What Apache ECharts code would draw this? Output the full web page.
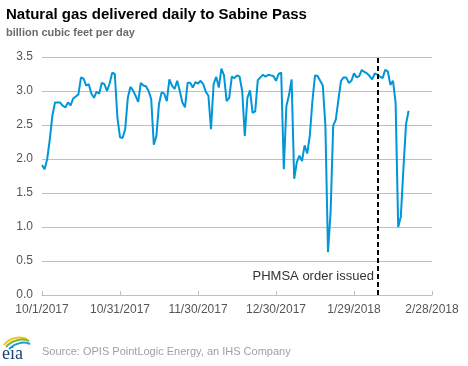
<!DOCTYPE html>
<html>
<head>
<meta charset="utf-8">
<script src="https://cdn.jsdelivr.net/npm/echarts@6/dist/echarts.min.js"></script>
<style>html,body{margin:0;padding:0;background:#fff;}#c{width:468px;height:366px;}</style>
</head>
<body>
<div id="c"></div>
<script>
// Daily values starting 10/1/2017 (index = days since 10/1/2017)
const values = [
  1.91, 1.85, 2.00, 2.29, 2.64, 2.83, 2.83, 2.83, 2.78, 2.76,
  2.83, 2.79, 2.89, 2.92, 2.95, 3.20, 3.18, 3.08, 3.10, 2.96,
  2.90, 2.99, 2.96, 3.12, 3.10, 3.00, 3.11, 3.27, 3.25, 2.61,
  2.32, 2.31, 2.44, 2.90, 3.06, 3.01, 2.93, 2.84, 3.12, 3.08,
  3.07, 3.00, 2.88, 2.21, 2.34, 2.81, 2.98, 2.96, 2.85, 3.17,
  3.08, 3.03, 3.15, 3.00, 2.83, 2.76, 3.12, 3.12, 3.05, 3.13,
  3.11, 3.15, 3.10, 2.99, 2.93, 2.44, 3.10, 3.21, 3.05, 3.33,
  3.23, 2.85, 2.90, 3.21, 3.19, 3.23, 3.21, 3.00, 2.34, 2.90,
  3.01, 2.68, 2.70, 3.16, 3.20, 3.24, 3.21, 3.24, 3.23, 3.22,
  3.15, 3.25, 3.27, 1.85, 2.78, 2.94, 3.17, 1.71, 1.95, 2.05,
  1.97, 2.20, 2.08, 2.34, 2.85, 3.23, 3.22, 3.15, 3.08, 2.49,
  0.63, 1.22, 2.49, 2.58, 2.87, 3.15, 3.20, 3.20, 3.12, 3.15,
  3.26, 3.20, 3.22, 3.31, 3.28, 3.26, 3.22, 3.17, 3.26, 3.24,
  3.21, 3.19, 3.31, 3.29, 3.09, 3.15, 2.83, 1.00, 1.15, 1.85,
  2.51, 2.71
];
const xTickDays = [0, 30, 60, 90, 120, 150];
const xTickLabels = ['10/1/2017', '10/31/2017', '11/30/2017', '12/30/2017', '1/29/2018', '2/28/2018'];
const orderDay = 129.2;   // PHMSA order issued
const orderLabel = 'PHMSA order issued';

const FONT = "'Liberation Sans', Arial, sans-serif";
const chart = echarts.init(document.getElementById('c'), null, {renderer: 'canvas'});
const seriesData = values.map((v, i) => [i, v]);

chart.setOption({
  animation: false,
  backgroundColor: '#fff',
  title: {
    text: 'Natural gas delivered daily to Sabine Pass',
    subtext: 'billion cubic feet per day',
    left: 1, top: 2, itemGap: 5,
    textStyle: {fontFamily: FONT, fontSize: 15, fontWeight: 'bold', color: '#000'},
    subtextStyle: {fontFamily: FONT, fontSize: 11, fontWeight: 'bold', color: '#6b6b6b'}
  },
  grid: {left: 42, right: 36, top: 57, bottom: 71, containLabel: false},
  xAxis: {
    type: 'value', min: 0, max: 150, interval: 30,
    axisLine: {show: true, lineStyle: {color: '#bfbfbf', width: 1}},
    axisTick: {show: true, inside: true, length: 4, lineStyle: {color: '#bfbfbf'}},
    splitLine: {show: false},
    axisLabel: {
      fontFamily: FONT, fontSize: 12, color: '#555', margin: 9,
      formatter: v => { const k = xTickDays.indexOf(Math.round(v)); return k >= 0 ? xTickLabels[k] : ''; }
    }
  },
  yAxis: {
    type: 'value', min: 0, max: 3.5, interval: 0.5,
    axisLine: {show: false}, axisTick: {show: false},
    splitLine: {lineStyle: {color: '#bfbfbf', width: 1}},
    axisLabel: {fontFamily: FONT, fontSize: 12, color: '#555', margin: 9, formatter: v => v.toFixed(1)}
  },
  series: [{
    type: 'line',
    data: seriesData,
    showSymbol: false,
    symbol: 'none',
    lineStyle: {color: '#0096d7', width: 2},
    z: 3,
    markLine: {
      silent: true, symbol: 'none',
      lineStyle: {color: '#000', width: 2, type: [5, 3]},
      label: {show: false},
      data: [{xAxis: orderDay}],
      z: 5
    },
    markPoint: {
      silent: true,
      symbol: 'circle', symbolSize: 0,
      data: [{coord: [orderDay, 0.28], value: orderLabel}],
      label: {show: true, position: 'left', distance: 4, formatter: orderLabel,
        fontFamily: FONT, fontSize: 13, color: '#333'}
    }
  }],
  graphic: [
    {type: 'text', left: 42, top: 346, style: {text: 'Source: OPIS PointLogic Energy, an IHS Company', font: '11px ' + FONT, fill: '#a0a0a0'}},
    {type: 'text', left: 2, top: 345, style: {text: 'eia', font: '18px "Liberation Serif", "DejaVu Serif", serif', fill: '#1d3f73'}},
    {type: 'bezierCurve', shape: {x1: 4, y1: 345, x2: 27, y2: 339, cpx1: 10, cpy1: 337, cpx2: 20, cpy2: 336}, style: {stroke: '#f5c400', lineWidth: 2, fill: null}},
    {type: 'bezierCurve', shape: {x1: 6, y1: 347, x2: 29, y2: 341, cpx1: 12, cpy1: 340, cpx2: 22, cpy2: 338}, style: {stroke: '#7ab648', lineWidth: 2, fill: null}},
    {type: 'bezierCurve', shape: {x1: 9, y1: 349, x2: 30, y2: 344, cpx1: 15, cpy1: 343, cpx2: 24, cpy2: 341}, style: {stroke: '#1a9ad6', lineWidth: 2, fill: null}}
  ]
});
</script>
</body>
</html>
